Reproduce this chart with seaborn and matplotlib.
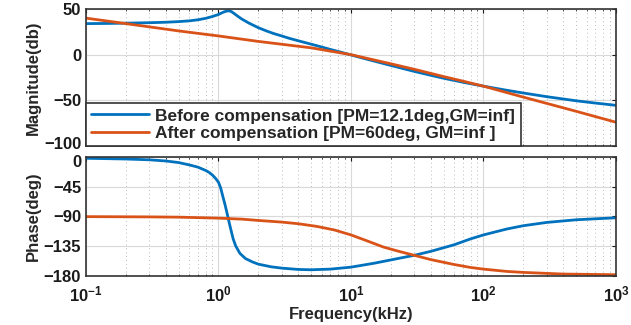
import numpy as np
import pandas as pd
import seaborn as sns
import matplotlib
matplotlib.use("Agg")
import matplotlib.pyplot as plt
from matplotlib.ticker import LogLocator, FixedLocator, FuncFormatter, NullFormatter
from matplotlib.transforms import ScaledTranslation

sns.set_style("white")
plt.rcParams["font.family"] = ["Liberation Sans", "DejaVu Sans"]
plt.rcParams["font.weight"] = "bold"
plt.rcParams["axes.labelweight"] = "bold"
plt.rcParams["mathtext.fontset"] = "custom"
plt.rcParams["mathtext.bf"] = "Liberation Sans:bold"
plt.rcParams["mathtext.rm"] = "Liberation Sans:bold"
plt.rcParams["mathtext.default"] = "bf"

# magnitude (dB)
f_mag_before = [0.1, 0.15, 0.2, 0.3, 0.4, 0.5, 0.6, 0.7, 0.8, 0.9, 1.0, 1.05, 1.1, 1.15,
                1.2, 1.25, 1.3, 1.4, 1.5, 1.7, 2.0, 2.3, 2.6, 3, 3.4, 4, 5, 6, 7, 8.7,
                10, 12, 15, 20, 25, 30, 40, 50, 70, 100, 150, 200, 300, 500, 700, 1000]
mag_before = [34, 34.2, 34.5, 35, 35.5, 36.2, 37, 38.2, 39.8, 41.8, 44, 45.5, 46.8, 47.7,
              48, 47.2, 45.5, 42, 39, 34.5, 29.5, 26, 23.2, 20.5, 18, 15.2, 11.5, 8.4, 5.7, 2.1,
              -0.3, -3.4, -7.1, -11.8, -15.4, -18.3, -22.6, -25.8, -30.2, -34.5, -39, -42, -46, -50.5, -53, -55.5]
f_mag_after = [0.1, 0.2, 0.5, 1, 2, 5, 10, 20, 30, 50, 70, 100, 200, 500, 1000]
mag_after = [40, 34, 26, 20.5, 14.5, 7.5, 0, -10, -16, -24, -29, -34.5, -46.5, -62, -74]

# phase (deg)
f_ph_before = [0.1, 0.2, 0.3, 0.4, 0.5, 0.6, 0.7, 0.8, 0.85, 0.9, 0.95, 1.0, 1.04, 1.08,
               1.12, 1.16, 1.2, 1.24, 1.29, 1.35, 1.45, 1.6, 1.8, 2.0, 2.5, 3, 4, 5, 7,
               10, 15, 20, 30, 40, 60, 80, 100, 150, 200, 300, 500, 700, 1000]
ph_before = [-1.5, -2.6, -3.8, -5.6, -8, -11.5, -15, -20, -23, -27, -32, -38, -47, -60,
             -72, -85, -98, -110, -124, -135, -146, -154, -159, -162.5, -166.5, -168.5, -170.5, -171, -170,
             -167, -161, -156, -149, -143, -133, -124, -118, -109, -104, -99, -95, -93.5, -92]
f_ph_after = [0.1, 0.3, 0.5, 1, 1.5, 2, 3, 4, 5.5, 7.5, 10, 13, 17.6, 23, 30, 40, 60, 80,
              100, 150, 200, 400, 1000]
ph_after = [-90.2, -90.6, -91, -92.5, -94, -96, -98.5, -101, -105, -110.5, -118, -126.5, -136.5,
            -143, -149, -155.5, -163, -167.5, -170, -173.5, -175, -177.5, -178.5]

labels = ["Before compensation [PM=12.1deg,GM=inf]",
          "After compensation [PM=60deg, GM=inf ]"]
blue = "#0072BD"
orange = "#D95319"

fig = plt.figure(figsize=(6.31, 3.25), dpi=100)
ax1 = fig.add_axes([0.1363, 0.5508, 0.8399, 0.4215])
ax2 = fig.add_axes([0.1363, 0.1517, 0.8399, 0.3643])

df_b = pd.DataFrame({"f": f_mag_before, "v": mag_before})
df_a = pd.DataFrame({"f": f_mag_after, "v": mag_after})
sns.lineplot(data=df_b, x="f", y="v", ax=ax1, color=blue, lw=2, label=labels[0])
sns.lineplot(data=df_a, x="f", y="v", ax=ax1, color=orange, lw=2, label=labels[1])

dp_b = pd.DataFrame({"f": f_ph_before, "v": ph_before})
dp_a = pd.DataFrame({"f": f_ph_after, "v": ph_after})
sns.lineplot(data=dp_b, x="f", y="v", ax=ax2, color=blue, lw=2, legend=False)
sns.lineplot(data=dp_a, x="f", y="v", ax=ax2, color=orange, lw=2, legend=False)

def decade_fmt(x, pos):
    return r"$10^{%d}$" % int(round(np.log10(x)))

for ax in [ax1, ax2]:
    ax.set_xscale("log")
    ax.set_xlim(0.1, 1000)
    ax.xaxis.set_major_locator(LogLocator(base=10, numticks=10))
    ax.xaxis.set_minor_locator(LogLocator(base=10, subs=np.arange(2, 10), numticks=10))
    ax.xaxis.set_minor_formatter(NullFormatter())
    ax.grid(True, which="major", color="#d9d9d9", lw=0.8)
    ax.grid(True, which="minor", axis="x", color="#bbbbbb", lw=0.7, ls=(0, (1, 3)))
    ax.tick_params(direction="in", top=True, right=True, length=3, width=0.8,
                   labelsize=12, colors="#1a1a1a")
    ax.tick_params(which="minor", direction="in", top=True, bottom=True, length=1.5)
    for s in ax.spines.values():
        s.set_color("#333333")
        s.set_linewidth(1.2)
    ax.set_axisbelow(True)

ax1.set_ylim(-100, 50)
ax1.yaxis.set_major_locator(FixedLocator([-100, -50, 0, 50]))
ax1.xaxis.set_major_formatter(NullFormatter())
ax1.set_xlabel("")
ax1.set_ylabel("Magnitude(db)", fontsize=12, fontweight="bold", labelpad=2)

ax2.set_ylim(-180, 0)
ax2.yaxis.set_major_locator(FixedLocator([-180, -135, -90, -45, 0]))
ax2.xaxis.set_major_formatter(FuncFormatter(decade_fmt))
ax2.tick_params(axis="x", pad=6)
ax2.set_ylabel("Phase(deg)", fontsize=12, fontweight="bold", labelpad=2)
ax2.set_xlabel("Frequency(kHz)", fontsize=12, fontweight="bold", labelpad=2)

leg = ax1.legend(loc="lower left", borderaxespad=0, fancybox=False, framealpha=1,
                 handlelength=3.3, handletextpad=0.4,
                 prop={"weight": "bold", "size": 12.5},
                 labelspacing=0.12, borderpad=0.3)
leg.get_frame().set_edgecolor("#333333")
leg.get_frame().set_linewidth(1.2)

# the -100 and 0 labels sit close together where the two axes meet
fig.canvas.draw()
t_low = ax1.yaxis.get_major_ticks()[0].label1
t_low.set_transform(t_low.get_transform() + ScaledTranslation(0, 3 / 100, fig.dpi_scale_trans))
t_top = ax2.yaxis.get_major_ticks()[-1].label1
t_top.set_transform(t_top.get_transform() + ScaledTranslation(0, -4 / 100, fig.dpi_scale_trans))

fig.savefig("out.png", dpi=100)
